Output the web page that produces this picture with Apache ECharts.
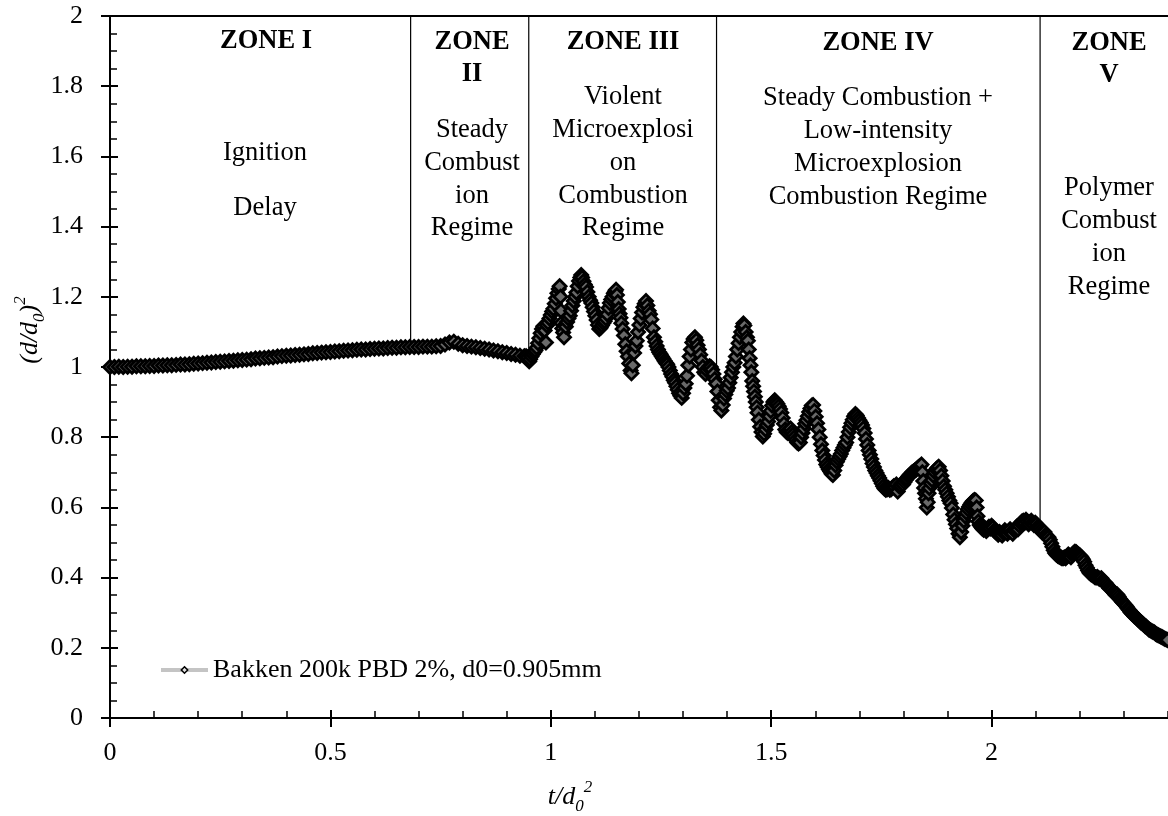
<!DOCTYPE html>
<html>
<head>
<meta charset="utf-8">
<script src="https://cdn.jsdelivr.net/npm/echarts@6/dist/echarts.min.js"></script>
<style>
  html, body { margin: 0; padding: 0; background: #fff; }
  #main { width: 1168px; height: 816px; }
</style>
</head>
<body>
<div id="main"></div>
<script>
// (t/d0^2, (d/d0)^2), one list per zone
var zoneIData = [
  [0.00,1.000],[0.01,1.000],[0.02,1.001],[0.03,1.000],[0.04,1.001],[0.05,1.001],[0.06,1.002],[0.07,1.002],
  [0.08,1.002],[0.09,1.003],[0.10,1.003],[0.11,1.004],[0.12,1.004],[0.13,1.005],[0.14,1.005],[0.15,1.006],
  [0.16,1.007],[0.17,1.007],[0.18,1.008],[0.19,1.009],[0.20,1.010],[0.21,1.011],[0.22,1.012],[0.23,1.013],
  [0.24,1.014],[0.25,1.015],[0.26,1.016],[0.27,1.017],[0.28,1.018],[0.29,1.019],[0.30,1.020],[0.31,1.021],
  [0.32,1.022],[0.33,1.024],[0.34,1.025],[0.35,1.026],[0.36,1.027],[0.37,1.028],[0.38,1.030],[0.39,1.031],
  [0.40,1.032],[0.41,1.033],[0.42,1.034],[0.43,1.035],[0.44,1.036],[0.45,1.037],[0.46,1.039],[0.47,1.040],
  [0.48,1.041],[0.49,1.042],[0.50,1.043],[0.51,1.044],[0.52,1.045],[0.53,1.046],[0.54,1.047],[0.55,1.048],
  [0.56,1.049],[0.57,1.050],[0.58,1.050],[0.59,1.051],[0.60,1.052],[0.61,1.053],[0.62,1.053],[0.63,1.054],
  [0.64,1.055],[0.65,1.055],[0.66,1.056],[0.67,1.056],[0.68,1.057]
];
var zoneIIData = [
  [0.69,1.057],[0.70,1.057],[0.71,1.058],[0.72,1.058],[0.73,1.058],[0.74,1.059],[0.75,1.060],[0.76,1.064],
  [0.77,1.070],[0.78,1.072],[0.79,1.066],[0.80,1.062],[0.81,1.060],[0.82,1.058],[0.83,1.056],[0.84,1.054],
  [0.85,1.052],[0.86,1.050],[0.87,1.047],[0.88,1.045],[0.89,1.042],[0.90,1.040],[0.91,1.037],[0.92,1.035],
  [0.93,1.032],[0.94,1.031],[0.944,1.031],[0.948,1.028]
];
var zoneIIIData = [
  [0.951,1.016],[0.953,1.022],[0.956,1.030],[0.959,1.036],[0.962,1.042],[0.965,1.047],[0.968,1.055],[0.971,1.068],
  [0.974,1.082],[0.977,1.096],[0.980,1.108],[0.983,1.116],[0.986,1.104],[0.989,1.070],[0.991,1.118],[0.994,1.126],
  [0.997,1.138],[1.000,1.148],[1.003,1.158],[1.006,1.166],[1.009,1.180],[1.012,1.196],[1.015,1.210],[1.018,1.222],
  [1.020,1.230],[1.022,1.200],[1.023,1.160],[1.024,1.125],[1.026,1.110],[1.028,1.098],[1.030,1.085],[1.032,1.120],
  [1.034,1.115],[1.037,1.128],[1.040,1.138],[1.043,1.146],[1.046,1.160],[1.049,1.175],[1.052,1.188],[1.055,1.200],
  [1.058,1.212],[1.061,1.230],[1.064,1.245],[1.067,1.255],[1.069,1.262],[1.071,1.255],[1.074,1.244],[1.077,1.235],
  [1.080,1.228],[1.083,1.214],[1.086,1.200],[1.089,1.190],[1.092,1.182],[1.095,1.170],[1.098,1.158],[1.101,1.146],
  [1.104,1.134],[1.107,1.120],[1.110,1.108],[1.113,1.112],[1.116,1.118],[1.119,1.125],[1.122,1.130],[1.125,1.138],
  [1.128,1.150],[1.131,1.168],[1.134,1.182],[1.137,1.192],[1.140,1.200],[1.143,1.210],[1.146,1.216],[1.148,1.220],
  [1.150,1.205],[1.152,1.185],[1.154,1.165],[1.156,1.152],[1.158,1.140],[1.160,1.125],[1.163,1.108],[1.166,1.090],
  [1.169,1.065],[1.172,1.045],[1.175,1.030],[1.178,1.010],[1.181,0.990],[1.183,0.982],[1.186,1.005],[1.189,1.040],
  [1.192,1.060],[1.195,1.075],[1.198,1.100],[1.201,1.120],[1.204,1.138],[1.207,1.155],[1.210,1.170],[1.213,1.180],
  [1.216,1.188],[1.219,1.175],[1.222,1.160],[1.225,1.150],[1.228,1.135],[1.231,1.110],[1.234,1.085],[1.237,1.072],
  [1.240,1.060],[1.243,1.050],[1.246,1.042],[1.249,1.036],[1.252,1.030],[1.255,1.024],[1.258,1.018],[1.261,1.012],
  [1.264,1.008],[1.267,1.000],[1.270,0.990],[1.273,0.980],[1.276,0.972],[1.279,0.962],[1.282,0.955],[1.285,0.945],
  [1.288,0.935],[1.291,0.925],[1.294,0.918],[1.297,0.912],[1.300,0.925],[1.303,0.940],[1.306,0.952],[1.309,0.975],
  [1.312,1.005],[1.315,1.030],[1.318,1.050],[1.321,1.070],[1.324,1.080],[1.327,1.085],[1.330,1.076],[1.333,1.062],
  [1.336,1.050],[1.339,1.035],[1.342,1.018],[1.345,1.000],[1.348,0.985],[1.351,0.980],[1.354,0.990],[1.357,0.998],
  [1.360,1.002],[1.363,1.000],[1.366,0.992],[1.369,0.980],[1.372,0.965],[1.375,0.952]
];
var zoneIVData = [
  [1.378,0.930],[1.381,0.905],[1.384,0.885],[1.387,0.876],[1.390,0.892],[1.393,0.910],[1.396,0.922],[1.399,0.932],
  [1.402,0.940],[1.405,0.955],[1.408,0.970],[1.411,0.985],[1.414,1.000],[1.417,1.012],[1.420,1.030],[1.423,1.050],
  [1.426,1.068],[1.429,1.085],[1.432,1.100],[1.435,1.115],[1.437,1.124],[1.439,1.118],[1.442,1.100],[1.445,1.085],
  [1.447,1.075],[1.449,1.050],[1.451,1.025],[1.453,1.005],[1.455,0.985],[1.457,0.960],[1.459,0.945],[1.461,0.930],
  [1.463,0.915],[1.465,0.900],[1.467,0.885],[1.469,0.870],[1.472,0.850],[1.475,0.830],[1.478,0.815],[1.481,0.802],
  [1.484,0.810],[1.487,0.822],[1.490,0.835],[1.493,0.845],[1.496,0.860],[1.499,0.875],[1.502,0.890],[1.505,0.900],
  [1.508,0.905],[1.511,0.900],[1.514,0.895],[1.517,0.888],[1.520,0.880],[1.523,0.870],[1.526,0.855],[1.529,0.838],
  [1.532,0.822],[1.535,0.815],[1.538,0.812],[1.541,0.818],[1.544,0.825],[1.547,0.815],[1.550,0.808],[1.553,0.800],
  [1.556,0.792],[1.559,0.785],[1.562,0.782],[1.565,0.785],[1.568,0.800],[1.571,0.812],[1.574,0.825],[1.577,0.838],
  [1.580,0.848],[1.583,0.860],[1.586,0.872],[1.589,0.882],[1.592,0.890],[1.595,0.892],[1.598,0.875],[1.601,0.858],
  [1.604,0.840],[1.607,0.822],[1.610,0.800],[1.613,0.780],[1.616,0.762],[1.619,0.748],[1.622,0.735],[1.625,0.722],
  [1.628,0.715],[1.631,0.708],[1.634,0.702],[1.637,0.696],[1.640,0.692],[1.643,0.705],[1.646,0.720],[1.649,0.730],
  [1.652,0.738],[1.655,0.745],[1.658,0.752],[1.661,0.762],[1.664,0.770],[1.667,0.778],[1.670,0.785],[1.673,0.800],
  [1.676,0.815],[1.679,0.828],[1.682,0.840],[1.685,0.850],[1.688,0.860],[1.691,0.866],[1.694,0.862],[1.697,0.855],
  [1.700,0.848],[1.703,0.842],[1.706,0.835],[1.709,0.825],[1.712,0.812],[1.715,0.795],[1.718,0.778],[1.721,0.762],
  [1.724,0.750],[1.727,0.738],[1.730,0.725],[1.733,0.715],[1.736,0.705],[1.739,0.698],[1.742,0.690],[1.745,0.684],
  [1.748,0.676],[1.751,0.668],[1.754,0.660],[1.757,0.654],[1.760,0.650],[1.763,0.652],[1.766,0.655],[1.769,0.650],
  [1.772,0.652],[1.775,0.656],[1.778,0.660],[1.781,0.658],[1.784,0.665],[1.787,0.645],[1.790,0.660],[1.793,0.662],
  [1.796,0.668],[1.799,0.665],[1.802,0.672],[1.805,0.678],[1.808,0.682],[1.811,0.688],[1.814,0.692],[1.817,0.696],
  [1.820,0.700],[1.823,0.702],[1.826,0.705],[1.829,0.708],[1.832,0.712],[1.835,0.715],[1.838,0.718],[1.841,0.722],
  [1.843,0.700],[1.845,0.675],[1.847,0.655],[1.849,0.640],[1.851,0.625],[1.853,0.600],[1.855,0.615],[1.857,0.640],
  [1.859,0.655],[1.862,0.668],[1.865,0.678],[1.868,0.690],[1.871,0.700],[1.874,0.708],[1.877,0.712],[1.880,0.716],
  [1.883,0.705],[1.886,0.690],[1.889,0.675],[1.892,0.660],[1.895,0.650],[1.898,0.640],[1.901,0.630],[1.904,0.620],
  [1.907,0.612],[1.910,0.598],[1.913,0.580],[1.916,0.565],[1.919,0.552],[1.922,0.540],[1.925,0.525],[1.928,0.515],
  [1.931,0.530],[1.934,0.548],[1.937,0.562],[1.940,0.575],[1.943,0.585],[1.946,0.595],[1.949,0.602],[1.952,0.608],
  [1.955,0.614],[1.958,0.618],[1.961,0.621],[1.964,0.620],[1.966,0.600],[1.968,0.575],[1.970,0.560],[1.973,0.550],
  [1.976,0.545],[1.979,0.540],[1.982,0.536],[1.985,0.540],[1.988,0.533],[1.991,0.538],[1.994,0.545],[1.997,0.540],
  [2.000,0.548],[2.003,0.543],[2.006,0.535],[2.009,0.530],[2.012,0.528],[2.015,0.522],[2.018,0.530],[2.021,0.525],
  [2.024,0.520],[2.027,0.528],[2.030,0.535],[2.033,0.530],[2.036,0.525],[2.039,0.532],[2.042,0.538],[2.045,0.530],
  [2.048,0.525],[2.051,0.535],[2.054,0.540],[2.057,0.545],[2.060,0.538],[2.063,0.548],[2.066,0.555],[2.069,0.560],
  [2.072,0.562],[2.075,0.556],[2.078,0.565],[2.081,0.560],[2.084,0.552],[2.087,0.558],[2.090,0.562],[2.093,0.556],
  [2.096,0.550],[2.099,0.556],[2.102,0.552],[2.105,0.545],[2.108,0.540]
];
var zoneVData = [
  [2.111,0.535],[2.114,0.530],[2.117,0.526],[2.120,0.530],[2.123,0.522],[2.126,0.518],[2.129,0.515],[2.132,0.508],
  [2.135,0.498],[2.138,0.488],[2.141,0.478],[2.144,0.470],[2.147,0.466],[2.150,0.462],[2.153,0.460],[2.156,0.458],
  [2.159,0.456],[2.162,0.455],[2.165,0.457],[2.168,0.455],[2.171,0.460],[2.174,0.466],[2.177,0.462],[2.180,0.458],
  [2.183,0.465],[2.186,0.470],[2.189,0.474],[2.192,0.472],[2.195,0.468],[2.198,0.465],[2.201,0.462],[2.204,0.458],
  [2.207,0.452],[2.210,0.445],[2.213,0.435],[2.216,0.428],[2.219,0.420],[2.222,0.414],[2.225,0.410],[2.228,0.408],
  [2.231,0.405],[2.234,0.402],[2.237,0.400],[2.240,0.402],[2.243,0.398],[2.246,0.396],[2.249,0.398],[2.252,0.392],
  [2.255,0.388],[2.258,0.385],[2.261,0.380],[2.264,0.375],[2.267,0.370],[2.270,0.368],[2.273,0.365],[2.276,0.360],
  [2.279,0.355],[2.282,0.350],[2.285,0.352],[2.288,0.346],[2.291,0.340],[2.294,0.335],[2.297,0.330],[2.300,0.326],
  [2.303,0.322],[2.306,0.318],[2.309,0.312],[2.312,0.308],[2.315,0.302],[2.318,0.298],[2.321,0.295],[2.324,0.290],
  [2.327,0.288],[2.330,0.284],[2.333,0.280],[2.336,0.276],[2.339,0.272],[2.342,0.270],[2.345,0.266],[2.348,0.262],
  [2.351,0.260],[2.354,0.256],[2.357,0.252],[2.360,0.250],[2.363,0.248],[2.366,0.246],[2.369,0.244],[2.372,0.240],
  [2.375,0.238],[2.378,0.236],[2.381,0.234],[2.384,0.232],[2.387,0.230],[2.390,0.228],[2.393,0.226],[2.396,0.224],
  [2.399,0.222]
];

// zone boundaries: t position and where each line meets the curve
var boundaryT = [0.682, 0.950, 1.376, 2.110];
var boundaryBottom = [1.057, 1.030, 0.954, 0.564];

var seriesName = 'Bakken 200k PBD 2%, d0=0.905mm';

// zone annotation lines: text, center x, center y, bold
var zoneText = [
  ['ZONE I', 266, 41, true], ['Ignition', 265, 153, false], ['Delay', 265, 208, false],
  ['ZONE', 472, 42, true], ['II', 472, 74, true],
  ['Steady', 472, 130, false], ['Combust', 472, 163, false], ['ion', 472, 196, false], ['Regime', 472, 228, false],
  ['ZONE III', 623, 42, true], ['Violent', 623, 97, false], ['Microexplosi', 623, 130, false],
  ['on', 623, 163, false], ['Combustion', 623, 196, false], ['Regime', 623, 228, false],
  ['ZONE IV', 878, 43, true], ['Steady Combustion +', 878, 98, false], ['Low-intensity', 878, 131, false],
  ['Microexplosion', 878, 164, false], ['Combustion Regime', 878, 197, false],
  ['ZONE', 1109, 43, true], ['V', 1109, 75, true],
  ['Polymer', 1109, 188, false], ['Combust', 1109, 221, false], ['ion', 1109, 254, false], ['Regime', 1109, 287, false]
];

var FONT = 'Liberation Serif';
var chartDom = document.getElementById('main');
var myChart = echarts.init(chartDom);

var allData = zoneIData.concat(zoneIIData, zoneIIIData, zoneIVData, zoneVData);

var boundarySeries = boundaryT.map(function (t, i) {
  return {
    type: 'line', xAxisIndex: 0, yAxisIndex: 0, silent: true,
    symbol: 'none', z: 1,
    lineStyle: { color: '#000', width: 1.2 },
    data: [[t, 2], [t, boundaryBottom[i]]]
  };
});

var graphics = zoneText.map(function (z) {
  return {
    type: 'text', x: z[1], y: z[2], silent: true, z: 100,
    style: {
      text: z[0], fill: '#000', align: 'center', verticalAlign: 'middle',
      font: (z[3] ? 'bold ' : '') + '26.5px "' + FONT + '"'
    }
  };
});
var nameRich = {
  m: { fontFamily: FONT, fontStyle: 'italic', fontSize: 26, lineHeight: 36, verticalAlign: 'middle' },
  b: { fontFamily: FONT, fontStyle: 'italic', fontSize: 17, lineHeight: 36, verticalAlign: 'bottom' },
  p: { fontFamily: FONT, fontStyle: 'italic', fontSize: 17, lineHeight: 36, verticalAlign: 'top' }
};
graphics.push({
  type: 'text', x: 570, y: 797, silent: true,
  style: { text: '{m|t/d}{b|0}{p|2}', rich: nameRich, fill: '#000', align: 'center', verticalAlign: 'middle' }
});
graphics.push({
  type: 'text', x: 30, y: 330, rotation: Math.PI / 2, silent: true,
  style: { text: '{m|(d/d}{b|0}{m|)}{p|2}', rich: nameRich, fill: '#000', align: 'center', verticalAlign: 'middle' }
});

var gridRect = { left: 110, right: -44, top: 16, bottom: 98, outerBoundsMode: 'none', containLabel: false };

option = {
  animation: false,
  backgroundColor: '#fff',
  grid: [
    Object.assign({}, gridRect),
    Object.assign({}, gridRect)
  ],
  legend: {
    data: [seriesName],
    left: 154, top: 652,
    itemWidth: 47, itemHeight: 8,
    lineStyle: { width: 4, color: '#c4c4c4' },
    itemStyle: { color: '#e0e0e0', borderColor: '#000', borderWidth: 1.5 },
    textStyle: { fontFamily: FONT, fontSize: 26, color: '#000' }
  },
  xAxis: [
    {
      type: 'value', gridIndex: 0, position: 'bottom', min: 0, max: 2.5, interval: 0.5,
      axisLine: { lineStyle: { color: '#000', width: 2 } },
      axisTick: { inside: true, length: 8, lineStyle: { color: '#000', width: 2 } },
      minorTick: { show: true, splitNumber: 5, length: 7, lineStyle: { color: '#000', width: 1.5 } },
      axisLabel: { fontFamily: FONT, fontSize: 26, color: '#000', margin: 22 },
      splitLine: { show: false }
    },
    {
      type: 'value', gridIndex: 0, position: 'top', min: 0, max: 2.5, interval: 0.5,
      axisLine: { lineStyle: { color: '#000', width: 2 } },
      axisTick: { show: false }, axisLabel: { show: false }, splitLine: { show: false }
    },
    {
      type: 'value', gridIndex: 1, position: 'bottom', min: 0, max: 2.5, interval: 0.5,
      axisLine: { show: false },
      axisTick: { length: 9, lineStyle: { color: '#000', width: 2 } },
      axisLabel: { show: false }, splitLine: { show: false }
    }
  ],
  yAxis: [
    {
      type: 'value', gridIndex: 0, position: 'left', min: 0, max: 2, interval: 0.2,
      axisLine: { show: true, lineStyle: { color: '#000', width: 2 } },
      axisTick: { show: true, inside: true, length: 8, lineStyle: { color: '#000', width: 2 } },
      minorTick: { show: true, splitNumber: 4, length: 7, lineStyle: { color: '#000', width: 1.5 } },
      axisLabel: { fontFamily: FONT, fontSize: 26, color: '#000', margin: 27 },
      splitLine: { show: false }
    },
    {
      type: 'value', gridIndex: 1, position: 'left', min: 0, max: 2, interval: 0.2,
      axisLine: { show: false },
      axisTick: { show: true, length: 9, lineStyle: { color: '#000', width: 2 } },
      axisLabel: { show: false }, splitLine: { show: false }
    }
  ],
  series: boundarySeries.concat([
    {
      name: seriesName,
      type: 'line', xAxisIndex: 0, yAxisIndex: 0, z: 3,
      data: allData,
      showSymbol: true, showAllSymbol: true,
      symbol: 'diamond', symbolSize: 13,
      lineStyle: { color: '#c4c4c4', width: 4 },
      itemStyle: { color: '#6a6a6a', borderColor: '#000', borderWidth: 2.8 }
    }
  ]),
  graphic: graphics
};

option && myChart.setOption(option);
</script>
</body>
</html>
